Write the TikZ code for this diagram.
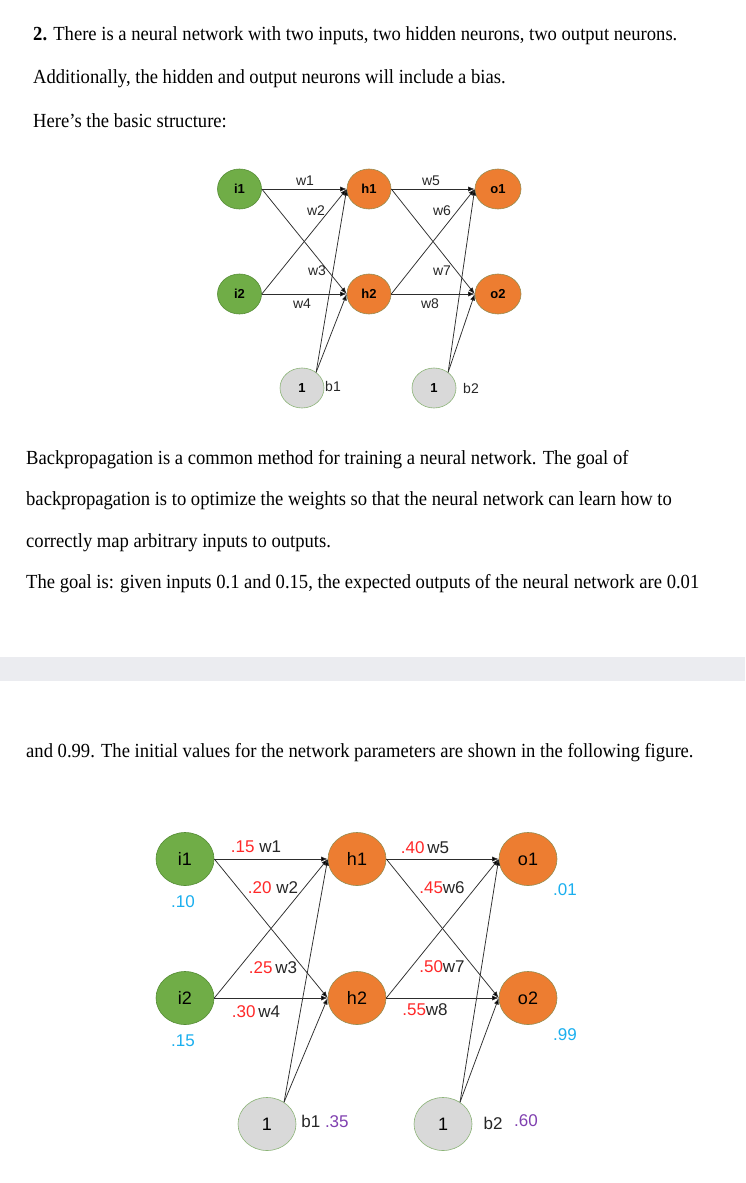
\documentclass[tikz,border=0pt]{standalone}
\usepackage{fontspec}
\usepackage{graphicx}
\setmainfont{Liberation Serif}
\newfontfamily\lsans{Liberation Sans}
\usetikzlibrary{shapes.geometric,arrows.meta}
\definecolor{ngreen}{RGB}{112,173,71}
\definecolor{ngreenb}{RGB}{84,140,52}
\definecolor{norange}{RGB}{237,125,49}
\definecolor{norangeb}{RGB}{150,140,80}
\definecolor{ngray}{RGB}{217,217,217}
\definecolor{ngrayb}{RGB}{140,180,120}
\definecolor{wred}{RGB}{255,40,40}
\definecolor{vblue}{RGB}{26,175,239}
\definecolor{bpurple}{RGB}{128,64,176}
\definecolor{band}{RGB}{235,236,240}
\definecolor{edgec}{RGB}{45,45,45}
\tikzset{
  para/.style={anchor=base west, inner sep=0pt, font=\fontsize{20}{20}\selectfont},
  neu/.style={ellipse, inner sep=0pt, line width=0.6pt},
  sA/.style={neu, minimum width=44pt, minimum height=40pt, font=\lsans\bfseries\fontsize{13}{13}\selectfont},
  sB/.style={neu, minimum width=58pt, minimum height=53pt, font=\lsans\fontsize{18}{18}\selectfont},
  inp/.style={fill=ngreen, draw=ngreenb},
  hid/.style={fill=norange, draw=norangeb},
  bia/.style={fill=ngray, draw=ngrayb},
  lblA/.style={inner sep=0pt, font=\lsans\fontsize{14}{14}\selectfont, text=black!85},
  lblB/.style={inner sep=0pt, font=\lsans\fontsize{17}{17}\selectfont, text=black!85},
  edge/.style={draw=edgec, line width=0.75pt, -{Latex[length=6.5pt,width=5pt,fill=black]}},
}
\newcommand{\sq}[1]{\scalebox{0.93}[1]{#1}}
\begin{document}
\begin{tikzpicture}[x=1pt,y=-1pt]
\useasboundingbox (0,0) rectangle (745,1183);
\fill[white] (0,0) rectangle (745,1183);
% text block 1
\node[para] (t1) at (33,40) {\sq{\textbf{2.} There is a neural network with two inputs, two hidden neurons, two output neurons.}};
\node[para] (t2) at (33,83) {\sq{Additionally, the hidden and output neurons will include a bias.}};
\node[para] (t3) at (33,127) {\sq{Here’s the basic structure:}};
% diagram 1
\node[sA,inp] (ai1) at (239.5,189) {i1};
\node[sA,inp] (ai2) at (239.5,294) {i2};
\node[sA,hid] (ah1) at (369,189) {h1};
\node[sA,hid] (ah2) at (369,294) {h2};
\node[sA,hid,minimum width=46pt] (ao1) at (498,189) {o1};
\node[sA,hid,minimum width=46pt] (ao2) at (498,294) {o2};
\node[sA,bia] (ab1) at (302,388) {1};
\node[sA,bia] (ab2) at (434,388) {1};
\draw[edge] (ai1.east) -- (ah1.west);
\draw[edge] (ai1.east) -- (ah2.west);
\draw[edge] (ai2.east) -- (ah1.west);
\draw[edge] (ai2.east) -- (ah2.west);
\draw[edge] (ab1.48) -- (ah1.west);
\draw[edge] (ab1.48) -- (ah2.west);
\draw[edge] (ah1.east) -- (ao1.west);
\draw[edge] (ah1.east) -- (ao2.west);
\draw[edge] (ah2.east) -- (ao1.west);
\draw[edge] (ah2.east) -- (ao2.west);
\draw[edge] (ab2.48) -- (ao1.west);
\draw[edge] (ab2.48) -- (ao2.west);
\node[lblA] (aw1) at (305,181) {w1};
\node[lblA] (aw2) at (316,211) {w2};
\node[lblA] (aw3) at (317,271) {w3};
\node[lblA] (aw4) at (302,304) {w4};
\node[lblA] (aw5) at (431,181) {w5};
\node[lblA] (aw6) at (442,211) {w6};
\node[lblA] (aw7) at (442,271) {w7};
\node[lblA] (aw8) at (430,304) {w8};
\node[lblA] (alb1) at (333,386) {b1};
\node[lblA] (alb2) at (471,388) {b2};
% text block 2
\node[para] (t4) at (26,464) {\sq{Backpropagation is a common method for training a neural network. The goal of}};
\node[para] (t5) at (26,505) {\sq{backpropagation is to optimize the weights so that the neural network can learn how to}};
\node[para] (t6) at (26,547) {\sq{correctly map arbitrary inputs to outputs.}};
\node[para] (t7) at (26,588) {\sq{The goal is: given inputs 0.1 and 0.15, the expected outputs of the neural network are 0.01}};
\fill[band] (0,657) rectangle (745,681);
\node[para] (t8) at (26,757) {\sq{and 0.99. The initial values for the network parameters are shown in the following figure.}};
% diagram 2
\node[sB,inp] (bi1) at (185,859) {i1};
\node[sB,inp] (bi2) at (185,998) {i2};
\node[sB,hid] (bh1) at (357,859) {h1};
\node[sB,hid] (bh2) at (357,998) {h2};
\node[sB,hid] (bo1) at (528,859) {o1};
\node[sB,hid] (bo2) at (528,998) {o2};
\node[sB,bia] (bb1) at (267,1124) {1};
\node[sB,bia] (bb2) at (443,1124) {1};
\draw[edge] (bi1.east) -- (bh1.west);
\draw[edge] (bi1.east) -- (bh2.west);
\draw[edge] (bi2.east) -- (bh1.west);
\draw[edge] (bi2.east) -- (bh2.west);
\draw[edge] (bb1.52) -- (bh1.west);
\draw[edge] (bb1.52) -- (bh2.west);
\draw[edge] (bh1.east) -- (bo1.west);
\draw[edge] (bh1.east) -- (bo2.west);
\draw[edge] (bh2.east) -- (bo1.west);
\draw[edge] (bh2.east) -- (bo2.west);
\draw[edge] (bb2.52) -- (bo1.west);
\draw[edge] (bb2.52) -- (bo2.west);
\node[lblB] (bw1) at (256,847) {\textcolor{wred}{.15} w1};
\node[lblB] (bw2) at (273,888) {\textcolor{wred}{.20} w2};
\node[lblB] (bw3) at (273,968) {\textcolor{wred}{.25}\,w3};
\node[lblB] (bw4) at (256,1012) {\textcolor{wred}{.30}\,w4};
\node[lblB] (bw5) at (425,848) {\textcolor{wred}{.40}\,w5};
\node[lblB] (bw6) at (442,888) {\textcolor{wred}{.45}w6};
\node[lblB] (bw7) at (442,967) {\textcolor{wred}{.50}w7};
\node[lblB] (bw8) at (425,1010) {\textcolor{wred}{.55}w8};
\node[lblB,text=vblue] (bv1) at (183,902) {.10};
\node[lblB,text=vblue] (bv2) at (183,1041) {.15};
\node[lblB,text=vblue] (bv3) at (565,890) {.01};
\node[lblB,text=vblue] (bv4) at (565,1035) {.99};
\node[lblB] (blb1) at (325,1121) {b1 \textcolor{bpurple}{.35}};
\node[lblB] (blb2) at (493,1123) {b2};
\node[lblB,text=bpurple] (bvb2) at (526,1121) {.60};
\end{tikzpicture}
\end{document}
